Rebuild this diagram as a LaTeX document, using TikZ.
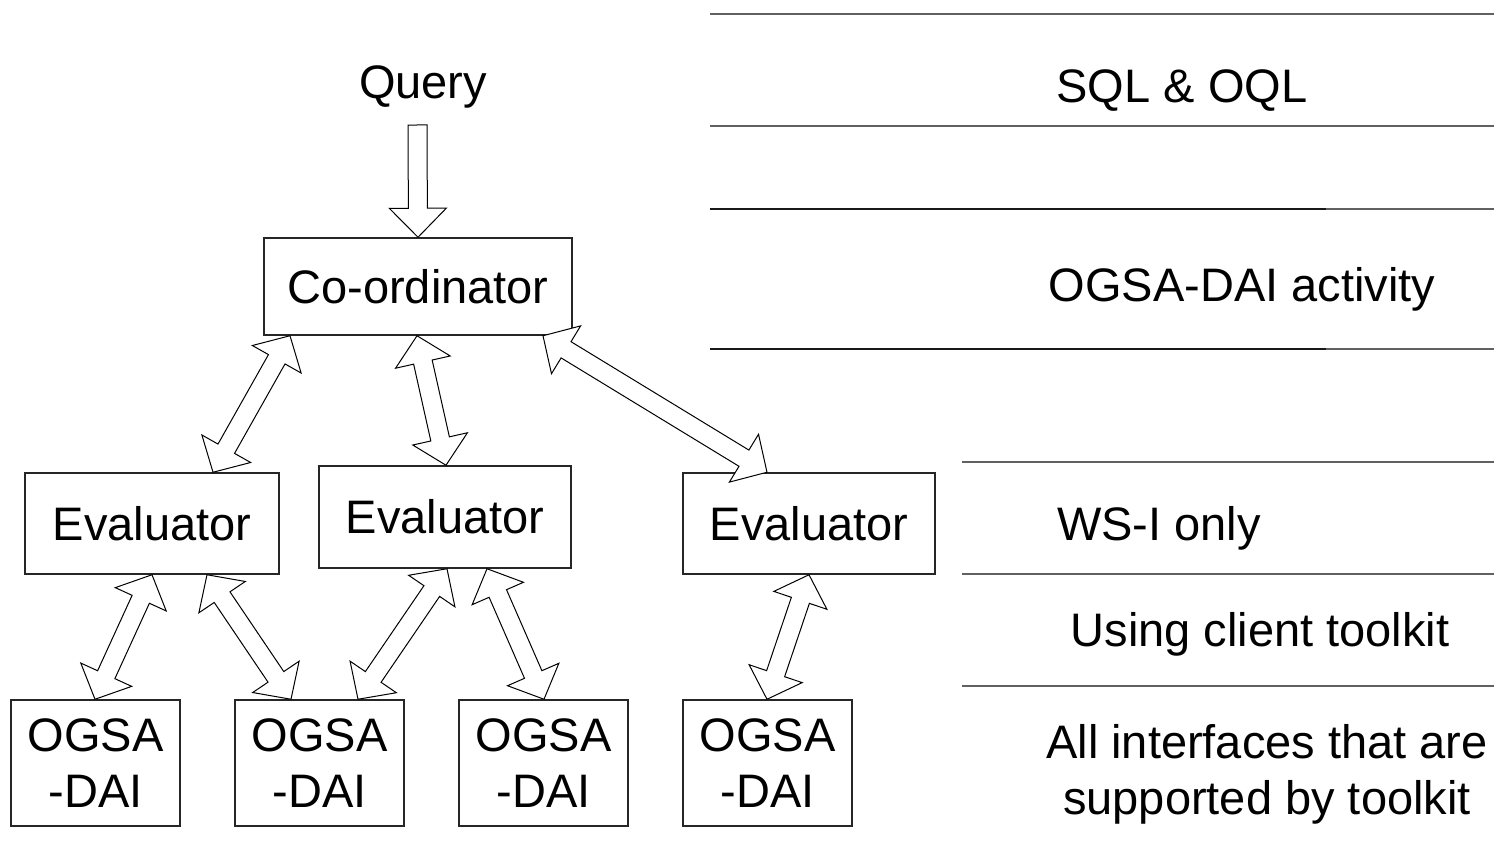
\documentclass[tikz,border=0pt]{standalone}
\usepackage{fontspec}
\setmainfont{Liberation Sans}
\usetikzlibrary{calc}

\newcommand\lbl{\fontsize{23.5pt}{28pt}\selectfont}

% hollow block arrow with heads at both ends, tip to tip
\newcommand\twoway[2]{%
  \draw[blockarrow] let \p1=(#1), \p2=(#2), \n1={atan2(\y2-\y1,\x2-\x1)} in
    (#1)
    -- ([shift={(#1)},rotate=\n1]13.5pt,14pt)
    -- ([shift={(#1)},rotate=\n1]13.5pt,4.75pt)
    -- ([shift={(#2)},rotate=\n1]-13.5pt,4.75pt)
    -- ([shift={(#2)},rotate=\n1]-13.5pt,14pt)
    -- (#2)
    -- ([shift={(#2)},rotate=\n1]-13.5pt,-14pt)
    -- ([shift={(#2)},rotate=\n1]-13.5pt,-4.75pt)
    -- ([shift={(#1)},rotate=\n1]13.5pt,-4.75pt)
    -- ([shift={(#1)},rotate=\n1]13.5pt,-14pt)
    -- cycle;}

% hollow block arrow with a flat tail and one head
\newcommand\oneway[2]{%
  \draw[blockarrow] let \p1=(#1), \p2=(#2), \n1={atan2(\y2-\y1,\x2-\x1)} in
    ([shift={(#1)},rotate=\n1]0pt,4.75pt)
    -- ([shift={(#2)},rotate=\n1]-14.5pt,4.75pt)
    -- ([shift={(#2)},rotate=\n1]-14.5pt,14.25pt)
    -- (#2)
    -- ([shift={(#2)},rotate=\n1]-14.5pt,-14.25pt)
    -- ([shift={(#2)},rotate=\n1]-14.5pt,-4.75pt)
    -- ([shift={(#1)},rotate=\n1]0pt,-4.75pt)
    -- cycle;}

\tikzset{
  box/.style={draw=black!85, line width=0.75pt, inner sep=0pt, align=center, font=\lbl},
  label text/.style={inner sep=0pt, anchor=base, font=\lbl},
  blockarrow/.style={draw=black, fill=white, line width=0.5pt, line join=miter},
  rule/.style={line width=1pt, draw=black!62},
  darkrule/.style={line width=1pt, draw=black!90},
}

\begin{document}
\begin{tikzpicture}[x=0.5pt, y=-0.5pt]
\useasboundingbox (0,0) rectangle (1494,850);

% ---- query tree ----
\node[label text] (query) at (423,99) {Query};
\node[box, minimum width=154pt, minimum height=48.5pt] (co) at (418,286.5) {Co-ordinator};

\node[box, minimum width=127pt, minimum height=50.5pt] (e1) at (152,523.5) {Evaluator};
\node[box, minimum width=126pt, minimum height=51pt]   (e2) at (445,517)   {Evaluator};
\node[box, minimum width=126pt, minimum height=50.5pt] (e3) at (809,523.5) {Evaluator};

\foreach \i/\x in {1/95.5, 2/319.5, 3/543.5, 4/767.5}
  \node[box, minimum width=84.5pt, minimum height=63pt] (o\i) at (\x,763) {OGSA\\-DAI};

% arrow end points on the box edges
\coordinate (qtail) at (417.5,125);
\coordinate (c1) at (co.south -| 290,0);
\coordinate (c2) at (co.south -| 417,0);
\coordinate (c3) at (co.south -| 543,0);
\coordinate (e1t) at (e1.north -| 213,0);
\coordinate (e2t) at (e2.north -| 446,0);
\coordinate (e3t) at (e3.north -| 767,0);
\coordinate (e1a) at (e1.south -| 152,0);
\coordinate (e1b) at (e1.south -| 207,0);
\coordinate (e2a) at (e2.south -| 447,0);
\coordinate (e2b) at (e2.south -| 487,0);
\coordinate (e3a) at (e3.south -| 809,0);
\coordinate (o1t) at (o1.north -| 95,0);
\coordinate (o2a) at (o2.north -| 291,0);
\coordinate (o2b) at (o2.north -| 358,0);
\coordinate (o3t) at (o3.north -| 544,0);
\coordinate (o4t) at (o4.north -| 767,0);

\oneway{qtail}{co.north}
\twoway{c1}{e1t}
\twoway{c2}{e2t}
\twoway{c3}{e3t}
\twoway{e1a}{o1t}
\twoway{e1b}{o2a}
\twoway{e2a}{o2b}
\twoway{e2b}{o3t}
\twoway{e3a}{o4t}

% ---- layer table ----
\coordinate (r0l) at (710,14);    \coordinate (r0r) at (1494,14);
\coordinate (r1l) at (710,126);   \coordinate (r1r) at (1494,126);
\coordinate (r2l) at (710,209);   \coordinate (r2m) at (1326,209); \coordinate (r2r) at (1494,209);
\coordinate (r3l) at (710,349);   \coordinate (r3m) at (1326,349); \coordinate (r3r) at (1494,349);
\coordinate (r4l) at (962,462);   \coordinate (r4r) at (1494,462);
\coordinate (r5l) at (962,574);   \coordinate (r5r) at (1494,574);
\coordinate (r6l) at (962,686);   \coordinate (r6r) at (1494,686);

\draw[rule] (r0l) -- (r0r);
\draw[rule] (r1l) -- (r1r);
\draw[rule] (r2m) -- (r2r);
\draw[darkrule] (r2l) -- (r2m);
\draw[rule] (r3m) -- (r3r);
\draw[darkrule] (r3l) -- (r3m);
\draw[rule] (r4l) -- (r4r);
\draw[rule] (r5l) -- (r5r);
\draw[rule] (r6l) -- (r6r);

\node[label text] (sql)  at (1182,103) {SQL \& OQL};
\node[label text] (act)  at (1242,301) {OGSA-DAI activity};
\node[label text] (wsi)  at (1159,540) {WS-I only};
\node[label text] (cli)  at (1260,646) {Using client toolkit};
\node[label text] (all1) at (1267,758) {All interfaces that are};
\node[label text] (all2) at (1267,814) {supported by toolkit};
\end{tikzpicture}
\end{document}
